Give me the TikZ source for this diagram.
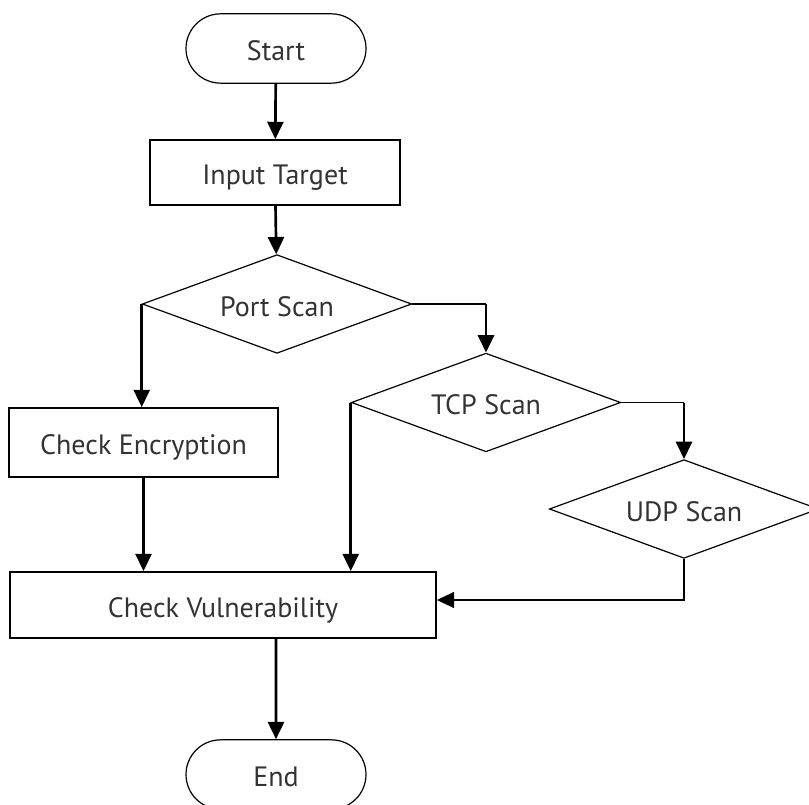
\documentclass[tikz,border=0pt]{standalone}
\usepackage{fontspec}
\setmainfont{PT Sans}
\usetikzlibrary{shapes.geometric,shapes.misc,arrows.meta}
\begin{document}
\begin{tikzpicture}[x=0.75pt,y=-0.75pt,
  every node/.style={font=\fontsize{21}{25}\selectfont, text=black!80, text height=18pt, text depth=0pt},
  term/.style={rounded rectangle, draw, line width=0.9pt, minimum width=135pt, minimum height=52pt, inner sep=0pt},
  proc/.style={rectangle, draw, line width=1.3pt, inner sep=0pt},
  decide/.style={diamond, draw, line width=0.9pt, inner sep=0pt, shape aspect=2.75, minimum width=202pt, minimum height=74pt},
  arr/.style={line width=2pt, -{Triangle[length=13pt,width=12pt]}},
  thinline/.style={line width=1pt},
  thinarr/.style={line width=1.2pt, -{Triangle[length=13pt,width=12pt]}}]
\useasboundingbox (0,0) rectangle (809,805);
\node[term] (start) at (276,48.5) {Start};
\node[proc, minimum width=187.5pt, minimum height=48.75pt] (input) at (275,172.5) {Input Target};
\node[decide] (port) at (277,304) {Port Scan};
\node[proc, minimum width=201.75pt, minimum height=51.75pt] (enc) at (143.5,442.5) {Check Encryption};
\node[decide] (tcp) at (486,402.5) {TCP Scan};
\node[decide] (udp) at (684,509) {UDP Scan};
\node[proc, minimum width=319.5pt, minimum height=49.5pt] (vuln) at (223,605) {Check Vulnerability};
\node[term] (end) at (276,774.5) {End};
\coordinate (pr) at (tcp.north |- port.east);
\coordinate (tr) at (udp.north |- tcp.east);
\coordinate (ub) at (684,600);
\coordinate (vin) at (vuln.east |- ub);
\draw[arr] (start) -- (input);
\draw[arr] (input) -- (port);
\draw[arr] (port.west) -- (port.west |- enc.north);
\draw[arr] (enc) -- (enc.south |- vuln.north);
\draw[thinline] (port.east) -- (pr);
\draw[arr] (pr) -- (tcp.north);
\draw[arr] (tcp.west) -- (tcp.west |- vuln.north);
\draw[thinline] (tcp.east) -- (tr);
\draw[arr] (tr) -- (udp.north);
\draw[thinarr] (udp.south) -- (ub) -- (vin);
\draw[arr] (vuln.south -| end.north) -- (end);
\end{tikzpicture}
\end{document}
